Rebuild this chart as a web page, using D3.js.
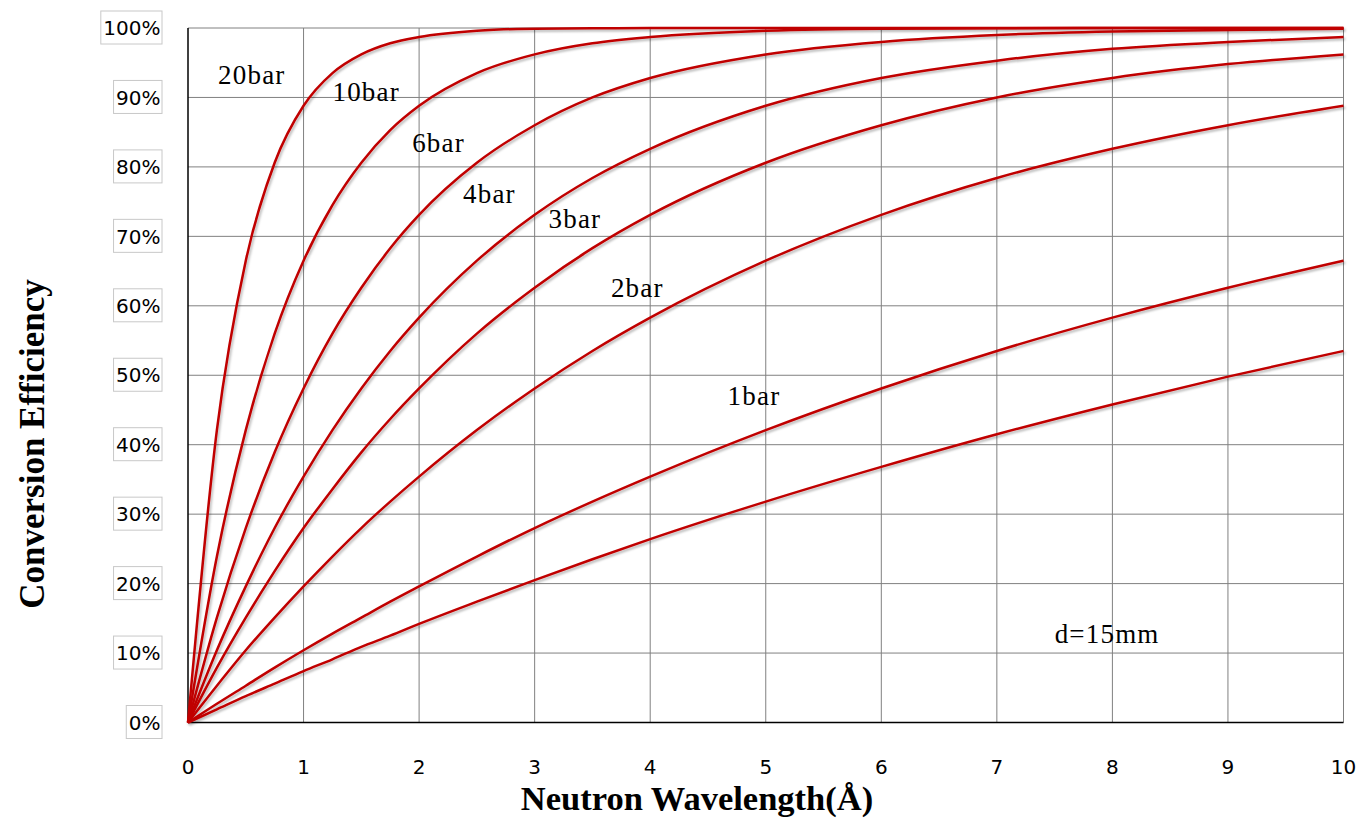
<!DOCTYPE html>
<html>
<head>
<meta charset="utf-8">
<script src="https://cdn.jsdelivr.net/npm/d3@7"></script>
<style>
  html, body { margin: 0; padding: 0; background: #ffffff; }
  svg { display: block; }
</style>
</head>
<body>
<svg id="chart" width="1358" height="818"></svg>
<script>
// ---- Data ----
const wavelengths = [0, 0.25, 0.5, 0.75, 1, 1.25, 1.5, 1.75, 2, 2.5, 3, 3.5, 4, 5, 6, 7, 8, 9, 10];

const eff20bar = [0, 42.1, 66.5, 80.6, 88.8, 93.5, 96.2, 97.8, 98.7, 99.6, 99.9, 99.95, 100, 100, 100, 100, 100, 100, 100];
const eff10bar = [0, 23.9, 42.1, 56.0, 66.5, 74.5, 80.6, 85.3, 88.8, 93.5, 96.2, 97.8, 98.7, 99.6, 99.9, 99.95, 100, 100, 100];
const eff6bar  = [0, 15.1, 28.0, 38.9, 48.1, 56.0, 62.6, 68.3, 73.1, 80.6, 86.0, 90.0, 92.8, 96.2, 98.0, 99.0, 99.5, 99.7, 99.9];
const eff4bar  = [0, 10.4, 19.6, 28.0, 35.4, 42.1, 48.1, 53.5, 58.3, 66.5, 73.1, 78.4, 82.6, 88.8, 92.8, 95.3, 97.0, 98.0, 98.7];
const eff3bar  = [0, 7.9, 15.1, 21.8, 28.0, 33.6, 38.9, 43.7, 48.1, 56.0, 62.6, 68.3, 73.1, 80.6, 86.0, 90.0, 92.8, 94.8, 96.2];
const eff2bar  = [0, 5.3, 10.4, 15.1, 19.6, 23.9, 28.0, 31.8, 35.4, 42.1, 48.1, 53.5, 58.3, 66.5, 73.1, 78.4, 82.6, 86.0, 88.8];
const eff1bar  = [0, 2.7, 5.3, 7.9, 10.4, 12.8, 15.1, 17.4, 19.6, 23.9, 28.0, 31.8, 35.4, 42.1, 48.1, 53.5, 58.3, 62.6, 66.5];
const eff07bar = [0, 1.9, 3.8, 5.6, 7.4, 9.1, 10.9, 12.5, 14.2, 17.4, 20.5, 23.5, 26.4, 31.8, 36.8, 41.5, 45.8, 49.8, 53.5];

const seriesNames = ["20bar", "10bar", "6bar", "4bar", "3bar", "2bar", "1bar", "0.7bar"];
const seriesValues = [eff20bar, eff10bar, eff6bar, eff4bar, eff3bar, eff2bar, eff1bar, eff07bar];

// curve labels: text, wavelength, efficiency (left / baseline anchor in data units)
const labelTexts = ["20bar", "10bar", "6bar", "4bar", "3bar", "2bar", "1bar", "d=15mm"];
const labelX     = [0.26, 1.25, 1.94, 2.38, 3.12, 3.66, 4.67, 7.50];
const labelY     = [92.0, 89.5, 82.2, 74.8, 71.2, 61.2, 45.7, 11.4];

const xTicks = [0, 1, 2, 3, 4, 5, 6, 7, 8, 9, 10];
const yTicks = [0, 10, 20, 30, 40, 50, 60, 70, 80, 90, 100];
const xTitle = "Neutron Wavelength(Å)";
const yTitle = "Conversion Efficiency";

// ---- Layout ----
const plotL = 188, plotR = 1343.5, plotT = 28, plotB = 722.5;
const svg = d3.select("#chart");

const x = d3.scaleLinear().domain([0, 10]).range([plotL, plotR]);
const y = d3.scaleLinear().domain([0, 100]).range([plotB, plotT]);

// shadow filter for curves
const defs = svg.append("defs");
const f = defs.append("filter").attr("id", "shadow")
  .attr("filterUnits", "userSpaceOnUse")
  .attr("x", 0).attr("y", 0).attr("width", 1358).attr("height", 818);
f.append("feDropShadow").attr("dx", 1.5).attr("dy", 2).attr("stdDeviation", 1.2)
  .attr("flood-color", "#000").attr("flood-opacity", 0.28);

// grid lines
const grid = svg.append("g");
grid.selectAll("line.v").data(xTicks.slice(1)).enter().append("line")
  .attr("x1", d => x(d)).attr("x2", d => x(d))
  .attr("y1", plotT).attr("y2", plotB)
  .attr("stroke", "#808080").attr("stroke-width", 1);
grid.selectAll("line.h").data(yTicks.slice(1)).enter().append("line")
  .attr("x1", plotL).attr("x2", plotR)
  .attr("y1", d => y(d)).attr("y2", d => y(d))
  .attr("stroke", "#808080").attr("stroke-width", 1);

// axes lines
svg.append("line").attr("x1", plotL).attr("x2", plotL).attr("y1", plotT).attr("y2", plotB)
  .attr("stroke", "#000").attr("stroke-width", 1.5);
svg.append("line").attr("x1", plotL).attr("x2", plotR).attr("y1", plotB).attr("y2", plotB)
  .attr("stroke", "#000").attr("stroke-width", 1.5);

// curves
const line = d3.line()
  .x((d, i) => x(wavelengths[i]))
  .y(d => y(d))
  .curve(d3.curveMonotoneX);

svg.append("g").attr("filter", "url(#shadow)")
  .selectAll("path").data(seriesValues).enter().append("path")
  .attr("d", d => line(d))
  .attr("fill", "none")
  .attr("stroke", "#c00000")
  .attr("stroke-width", 2.5)
  .attr("stroke-linejoin", "round");

// y tick labels with boxes
const yt = svg.append("g");
yTicks.forEach(v => {
  const g = yt.append("g");
  const t = g.append("text")
    .attr("x", 160.5).attr("y", y(v))
    .attr("dy", "0.36em")
    .attr("text-anchor", "end")
    .attr("font-family", "DejaVu Sans, sans-serif")
    .attr("font-size", 20)
    .attr("fill", "#000")
    .text(v + "%");
  const w = t.node().getComputedTextLength();
  g.insert("rect", "text")
    .attr("x", 162 - w - 4).attr("y", y(v) - 17)
    .attr("width", w + 4).attr("height", 33)
    .attr("fill", "#fff").attr("stroke", "#c8c8c8").attr("stroke-width", 1);
});

// x tick labels
svg.append("g").selectAll("text").data(xTicks).enter().append("text")
  .attr("x", d => x(d)).attr("y", 774)
  .attr("text-anchor", "middle")
  .attr("font-family", "DejaVu Sans, sans-serif")
  .attr("font-size", 20)
  .attr("fill", "#000")
  .text(d => d);

// axis titles
svg.append("text")
  .attr("x", 697).attr("y", 810)
  .attr("text-anchor", "middle")
  .attr("font-family", "Liberation Serif, Times New Roman, serif")
  .attr("font-weight", "bold")
  .attr("font-size", 34.5)
  .attr("fill", "#000")
  .text(xTitle);

svg.append("text")
  .attr("transform", "translate(44,444) rotate(-90)")
  .attr("text-anchor", "middle")
  .attr("font-family", "Liberation Serif, Times New Roman, serif")
  .attr("font-weight", "bold")
  .attr("font-size", 35)
  .attr("fill", "#000")
  .text(yTitle);

// curve labels
svg.append("g").selectAll("text").data(labelTexts).enter().append("text")
  .attr("x", (d, i) => x(labelX[i]))
  .attr("y", (d, i) => y(labelY[i]))
  .attr("font-family", "Liberation Serif, Times New Roman, serif")
  .attr("font-size", 27)
  .attr("letter-spacing", 1.2)
  .attr("fill", "#000")
  .text(d => d);
</script>
</body>
</html>
